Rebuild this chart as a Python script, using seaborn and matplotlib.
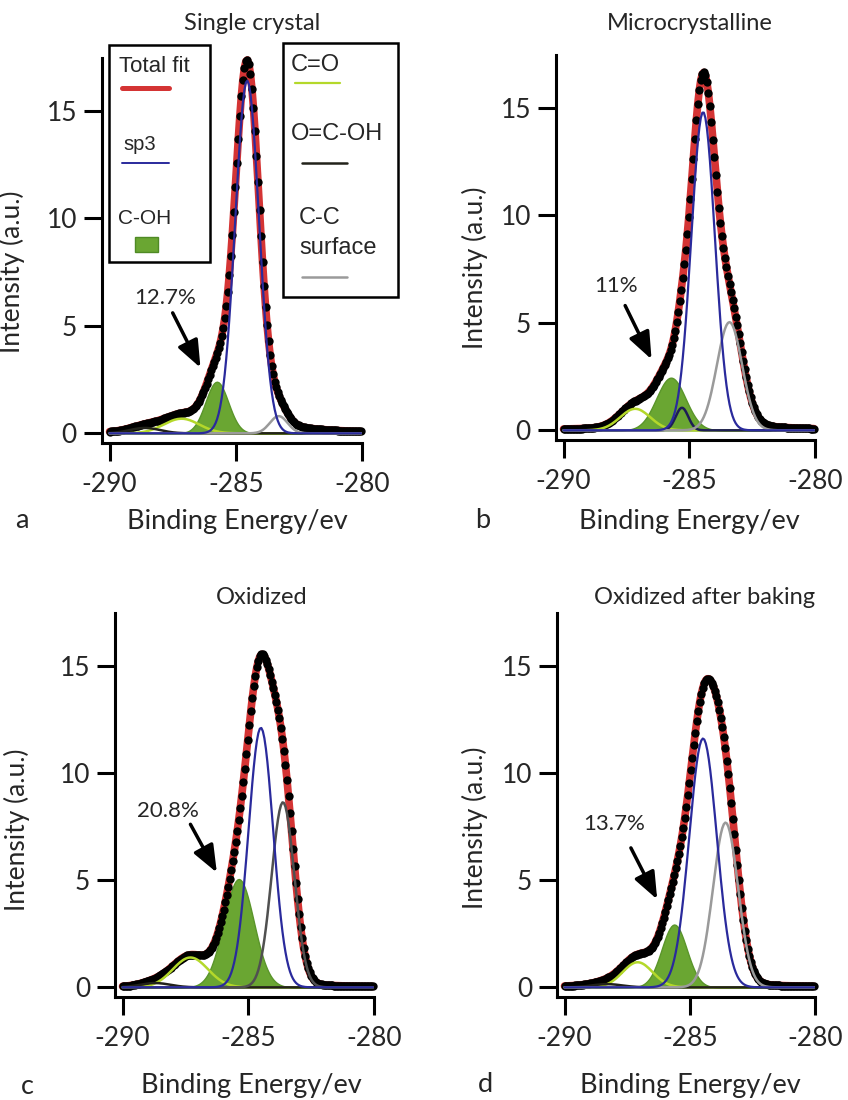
import numpy as np
import matplotlib
matplotlib.use('Agg')
import matplotlib.pyplot as plt
from matplotlib.patches import Rectangle
from matplotlib.lines import Line2D
import seaborn as sns

sns.set_theme(style='ticks')
plt.rcParams['font.family'] = ['Lato', 'DejaVu Sans']
plt.rcParams['axes.unicode_minus'] = False

W, H = 848, 1100

# ---- data: fitted C1s components (center eV, height, sigma eV) ----
titles = ['Single crystal', 'Microcrystalline', 'Oxidized', 'Oxidized after baking']
letters = ['a', 'b', 'c', 'd']
coh_share = ['12.7%', '11%', '20.8%', '13.7%']

sp3_center = [-284.55, -284.45, -284.50, -284.47]
sp3_height = [16.4, 14.8, 12.1, 11.6]
sp3_sigma = [0.47, 0.47, 0.49, 0.55]

coh_center = [-285.75, -285.73, -285.38, -285.62]
coh_height = [2.40, 2.45, 5.05, 2.93]
coh_sigma = [0.45, 0.58, 0.60, 0.50]

co_center = [-287.15, -287.15, -287.30, -287.08]
co_height = [0.68, 1.00, 1.39, 1.17]
co_sigma = [0.70, 0.60, 0.70, 0.60]

ocoh_center = [-288.6, -285.29, -288.7, -288.3]
ocoh_height = [0.25, 1.05, 0.20, 0.15]
ocoh_sigma = [0.60, 0.25, 0.60, 0.60]

cc_center = [-283.30, -283.40, -283.62, -283.57]
cc_height = [0.80, 5.03, 8.63, 7.68]
cc_sigma = [0.35, 0.50, 0.45, 0.50]

# broad background/asymmetry term contained in the total fit (center, height, fwhm)
tail_center = [-284.6, -284.7, -284.5, -285.3]
tail_height = [0.9, 1.1, 0.4, 1.0]
tail_fwhm = [3.0, 2.6, 3.0, 2.4]

# arrow annotation: text position, arrow start, arrow tip (eV, intensity)
label_xy = [(-287.8, 6.3), (-287.9, 6.7), (-288.2, 8.2), (-288.0, 7.6)]
arrow_from = [(-287.5, 5.6), (-287.55, 5.8), (-287.3, 7.6), (-287.35, 6.5)]
arrow_to = [(-286.4, 3.05), (-286.5, 3.3), (-286.25, 5.35), (-286.3, 4.1)]

ocoh_colors = ['#22221a', '#1d1d55', '#22221a', '#22221a']
cc_colors = ['#9a9a9a', '#9a9a9a', '#505050', '#9a9a9a']

energy = np.arange(-290.0, -279.99, 0.06)

# panel boxes in pixels: left, right, bottom, top
boxes = [(102, 362, 443, 58), (556, 815, 440, 55), (115, 374, 997, 613), (557, 815, 997, 613)]
title_pos = [(252, 24), (690, 24), (262, 598), (705, 598)]
xlabel_pos = [(237, 521), (689, 521), (251, 1085), (690, 1085)]
letter_pos = [(22, 521), (483, 521), (27, 1087), (485, 1085)]
ylabel_pos = [(25, 272), (488, 268), (30, 830), (488, 828)]

RED = '#d43434'
BLUE = '#2a2a9c'
GREEN = '#6aa632'
LIME = '#b4d82a'


def gauss(x, c, h, s):
    return h * np.exp(-(x - c) ** 2 / (2 * s ** 2))


def lorentz(x, c, h, w):
    return h / (1 + ((x - c) / (w / 2)) ** 2)


def fx(x):
    return x / W


def fy(y):
    return 1 - y / H


fig = plt.figure(figsize=(W / 100, H / 100), dpi=100)

for i in range(4):
    l, r, b, t = boxes[i]
    ax = fig.add_axes([fx(l), fy(b), (r - l) / W, (b - t) / H])

    sp3 = gauss(energy, sp3_center[i], sp3_height[i], sp3_sigma[i])
    coh = gauss(energy, coh_center[i], coh_height[i], coh_sigma[i])
    co = gauss(energy, co_center[i], co_height[i], co_sigma[i])
    ocoh = gauss(energy, ocoh_center[i], ocoh_height[i], ocoh_sigma[i])
    cc = gauss(energy, cc_center[i], cc_height[i], cc_sigma[i])
    total = sp3 + coh + co + ocoh + cc + lorentz(energy, tail_center[i], tail_height[i], tail_fwhm[i])

    sns.lineplot(x=energy, y=total, ax=ax, color=RED, linewidth=5.5, zorder=1, clip_on=False)
    ax.fill_between(energy, 0, coh, color=GREEN, edgecolor='#5a952a', linewidth=1, zorder=2)
    sns.scatterplot(x=energy, y=total, ax=ax, color='black', s=36, edgecolor='black',
                    linewidth=0, zorder=3, clip_on=False)
    sns.lineplot(x=energy, y=co, ax=ax, color=LIME, linewidth=1.8, zorder=4)
    sns.lineplot(x=energy, y=ocoh, ax=ax, color=ocoh_colors[i], linewidth=1.8, zorder=4)
    sns.lineplot(x=energy, y=cc, ax=ax, color=cc_colors[i], linewidth=1.8, zorder=4)
    sns.lineplot(x=energy, y=sp3, ax=ax, color=BLUE, linewidth=1.6, zorder=4)

    ax.annotate('', xy=arrow_to[i], xytext=arrow_from[i],
                arrowprops=dict(arrowstyle='-|>,head_length=0.75,head_width=0.3', color='black',
                                lw=2.5, mutation_scale=22, shrinkA=0, shrinkB=0), zorder=6)
    ax.text(*label_xy[i], coh_share[i], fontsize=16, ha='center', va='center', zorder=6)

    ax.set_xlim(-290.3, -280)
    ax.set_ylim(-0.45, 17.45)
    ax.set_xticks([-290, -285, -280])
    ax.set_yticks([0, 5, 10, 15])
    ax.set_xlabel('')
    ax.set_ylabel('Intensity (a.u.)', fontsize=19)
    ax.yaxis.set_label_coords((ylabel_pos[i][0] - l) / (r - l), (b - ylabel_pos[i][1]) / (b - t))
    ax.tick_params(direction='out', length=13, width=2.2, labelsize=19, color='black')
    ax.tick_params(axis='x', pad=8)
    ax.tick_params(axis='y', pad=5)
    for side in ['top', 'right']:
        ax.spines[side].set_visible(False)
    for side in ['left', 'bottom']:
        ax.spines[side].set_linewidth(2.2)
        ax.spines[side].set_color('black')
    ax.patch.set_alpha(0)

    fig.text(fx(title_pos[i][0]), fy(title_pos[i][1]), titles[i], fontsize=17, ha='center', va='center')
    fig.text(fx(xlabel_pos[i][0]), fy(xlabel_pos[i][1]), 'Binding Energy/ev', fontsize=19.5,
             ha='center', va='center')
    fig.text(fx(letter_pos[i][0]), fy(letter_pos[i][1]), letters[i], fontsize=19.5, ha='center', va='center')

# ---- legend boxes of panel a ----
LEG = ['Liberation Sans', 'DejaVu Sans']
for (x0, y0, x1, y1) in [(109, 45, 210, 262), (283, 43, 398, 297)]:
    fig.add_artist(Rectangle((fx(x0), fy(y1)), (x1 - x0) / W, (y1 - y0) / H, fill=True,
                             facecolor='white', edgecolor='black', linewidth=1.8, zorder=10))


def leg_text(x, y, s, size):
    fig.text(fx(x), fy(y), s, fontsize=size, ha='left', va='center', family=LEG, zorder=11)


def leg_line(x0, x1, y, color, lw):
    fig.add_artist(Line2D([fx(x0), fx(x1)], [fy(y), fy(y)], color=color, linewidth=lw, zorder=11))


leg_text(119, 67, 'Total fit', 16)
leg_line(122, 169, 88, RED, 3.6)
leg_text(123, 145, 'sp3', 14.5)
leg_line(122, 169, 163, BLUE, 1.4)
leg_text(118, 218, 'C-OH', 15)
fig.add_artist(Rectangle((fx(135), fy(252)), 23 / W, 15 / H, facecolor=GREEN,
                         edgecolor='#4f8a25', linewidth=1, zorder=11))

leg_text(291, 65, 'C=O', 17)
leg_line(295, 340, 83, LIME, 1.6)
leg_text(291, 134, 'O=C-OH', 17)
leg_line(302, 347, 163, '#22221a', 1.8)
leg_text(299, 218, 'C-C', 17)
leg_text(299, 248, 'surface', 17)
leg_line(302, 347, 277, '#9a9a9a', 1.8)

fig.savefig('out.png', dpi=100)
